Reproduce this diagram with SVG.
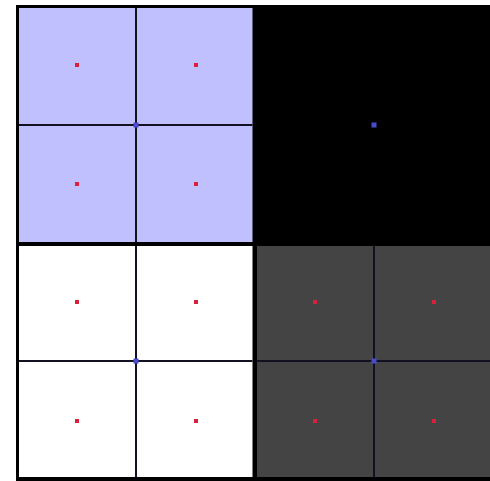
<svg xmlns="http://www.w3.org/2000/svg" width="490" height="481" viewBox="0 0 490 481">
<style>
.grid{stroke:#111122;stroke-width:2;fill:none}
.red{fill:#d8203a}
.blue{fill:#4a4acc}
</style>
<rect x="0" y="0" width="490" height="481" fill="#ffffff"/>
<rect x="16" y="5" width="474" height="476" fill="#000000"/>
<g id="q-tl">
<rect x="19" y="8" width="233.5" height="234" fill="#c0c0ff"/>
<line class="grid" x1="136" y1="8" x2="136" y2="242" stroke="#1a1a44"/>
<line class="grid" x1="19" y1="125" x2="252.5" y2="125" stroke="#1a1a44"/>
<rect class="red" x="75" y="63" width="4" height="4"/>
<rect class="red" x="194" y="63" width="4" height="4"/>
<rect class="red" x="75" y="182" width="4" height="4"/>
<rect class="red" x="194" y="182" width="4" height="4"/>
<rect class="blue" x="133.5" y="122.5" width="5" height="5"/>
</g>
<g id="q-tr">
<rect class="blue" x="371.5" y="122.5" width="5" height="5"/>
</g>
<g id="q-bl">
<rect x="19" y="246" width="233.5" height="231" fill="#ffffff"/>
<line class="grid" x1="136" y1="246" x2="136" y2="477"/>
<line class="grid" x1="19" y1="361" x2="252.5" y2="361"/>
<rect class="red" x="75" y="300" width="4" height="4"/>
<rect class="red" x="194" y="300" width="4" height="4"/>
<rect class="red" x="75" y="419" width="4" height="4"/>
<rect class="red" x="194" y="419" width="4" height="4"/>
<rect class="blue" x="133.5" y="358.5" width="5" height="5"/>
</g>
<g id="q-br">
<rect x="257" y="246" width="233" height="231" fill="#444444"/>
<line class="grid" x1="374" y1="246" x2="374" y2="477" stroke="#000"/>
<line class="grid" x1="257" y1="361" x2="490" y2="361" stroke="#000"/>
<rect class="red" x="313" y="300" width="4" height="4"/>
<rect class="red" x="432" y="300" width="4" height="4"/>
<rect class="red" x="313" y="419" width="4" height="4"/>
<rect class="red" x="432" y="419" width="4" height="4"/>
<rect class="blue" x="371.5" y="358.5" width="5" height="5"/>
</g>
<g id="connectors"></g>
</svg>
